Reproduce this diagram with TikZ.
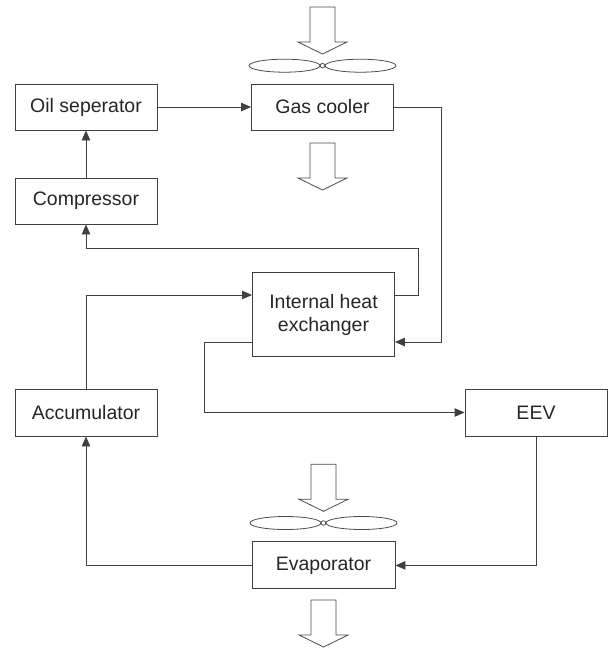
\documentclass[tikz,border=0pt]{standalone}
\usepackage{fontspec}
\setmainfont{Liberation Sans}
\usetikzlibrary{arrows.meta}
\begin{document}
\begin{tikzpicture}[x=1pt,y=-1pt,
  box/.style={draw=black!75,line width=0.9pt,minimum width=142pt,minimum height=46pt,inner sep=0pt,align=center,text=black!85,font=\fontsize{19.5}{23}\selectfont},
  flow/.style={draw=black!75,line width=0.9pt,-{Triangle[length=10pt,width=8.5pt]}},
  airline/.style={draw=black!70,line width=0.8pt,fill=white},
  airflow/.pic={\draw[airline] (-12.5,0) -- (12.5,0) -- (12.5,35) -- (24.5,35) -- (0,47) -- (-24.5,35) -- (-12.5,35) -- cycle;},
  fan/.pic={\draw[airline] (-38,0) ellipse [x radius=35.5, y radius=6.5];
            \draw[airline] (38,0) ellipse [x radius=35.5, y radius=6.5];
            \draw[airline] (0,0) circle [radius=2.3];}
]
\useasboundingbox (0,0) rectangle (609,648);
% nodes
\node[box] (oil)  at (86,107)   {Oil seperator};
\node[box] (gas)  at (322.5,107) {Gas cooler};
\node[box] (comp) at (86,201)   {Compressor};
\node[box,minimum height=84.5pt] (ihx) at (323.5,314.5) {Internal heat\\exchanger};
\node[box,minimum height=47pt] (acc)  at (86,412.5) {Accumulator};
\node[box,minimum height=47pt] (eev)  at (536,412.5) {EEV};
\node[box,minimum height=47pt,minimum width=143pt] (evap) at (323.5,565.4) {Evaporator};
% helper coordinates
\coordinate (c1) at (441,342);
\coordinate (c2) at (418,295);
\coordinate (c3) at (86,248);
\coordinate (c4) at (204,342);
% connectors
\draw[flow] (comp.north) -- (oil.south);
\draw[flow] (oil.east) -- (gas.west);
\draw[flow] (gas.east) -| (c1) -- (ihx.east |- c1);
\draw[flow] (ihx.east |- c2) -- (c2) |- (c3) -- (comp.south);
\draw[flow] (acc.north) |- (ihx.west |- c2);
\draw[flow] (ihx.west |- c4) -- (c4) |- (eev.west);
\draw[flow] (eev.south) |- (evap.east);
\draw[flow] (evap.west) -| (acc.south);
% air flows and fans
\pic at (322.5,7) {airflow};
\pic at (322.5,65.7) {fan};
\pic at (322.5,143) {airflow};
\pic at (323.5,464.3) {airflow};
\pic at (323.5,523) {fan};
\pic at (323.5,600) {airflow};
\end{tikzpicture}
\end{document}
